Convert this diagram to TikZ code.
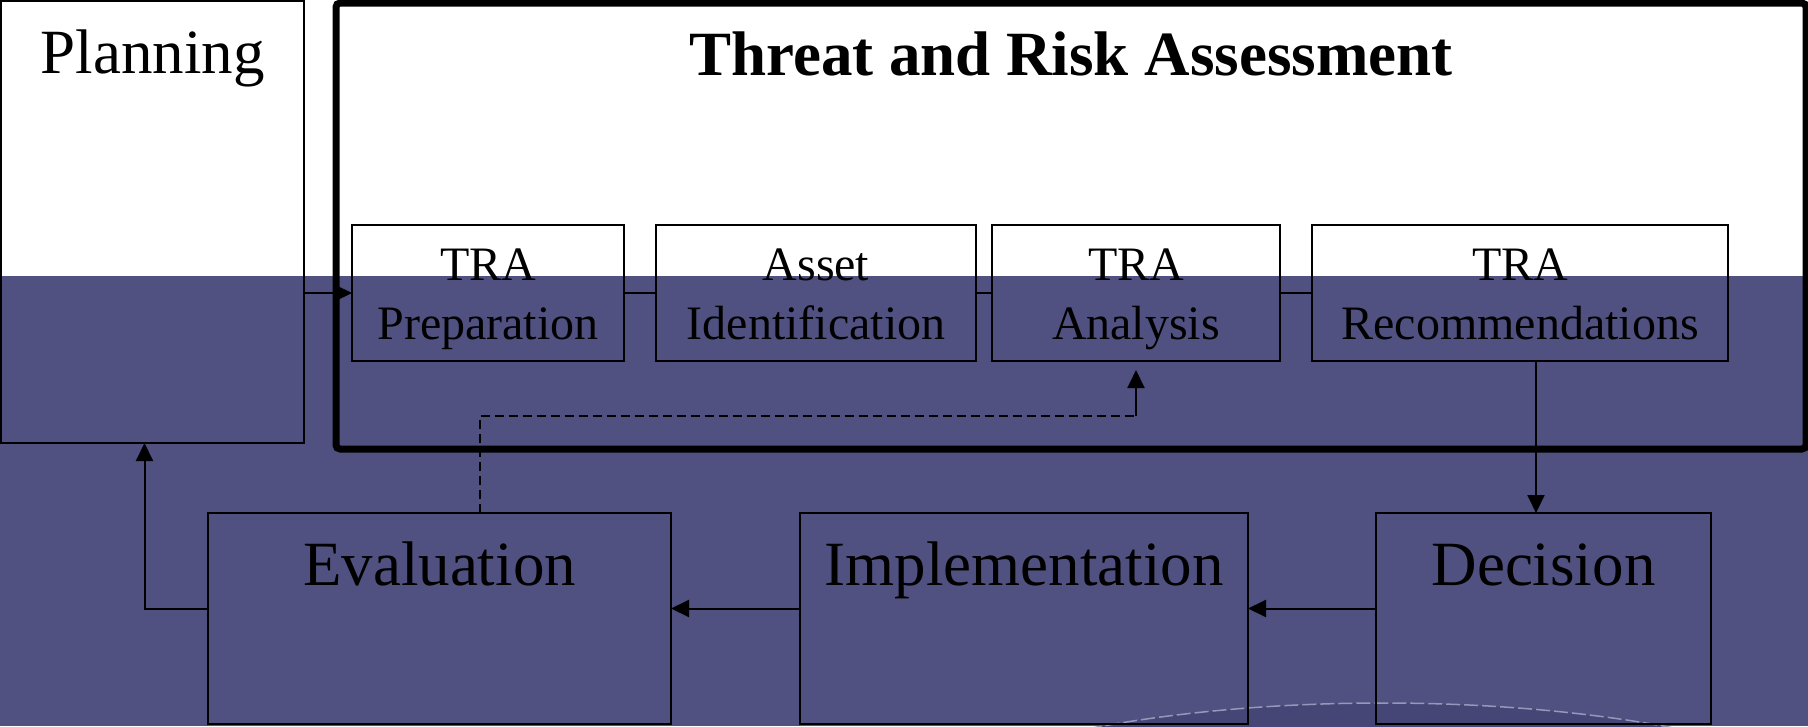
\documentclass[tikz,border=0pt]{standalone}
\usepackage{fontspec}
\setmainfont{Liberation Serif}
\usetikzlibrary{arrows.meta}
\definecolor{slideback}{RGB}{80,81,128}
\definecolor{slidearc}{RGB}{69,70,117}
\definecolor{slideline}{RGB}{150,152,185}
\newcommand{\tralines}[2]{\rule{0pt}{46pt}#1\\#2\rule[-12pt]{0pt}{12pt}}

\begin{document}
\begin{tikzpicture}[x=1pt,y=-1pt,
  bigbox/.style={draw,line width=2pt,inner sep=0pt,outer sep=0pt,anchor=north west,
    font=\fontsize{63}{70}\selectfont,text height=72pt},
  trabox/.style={draw,line width=2pt,inner sep=0pt,outer sep=0pt,anchor=north west,
    align=center,minimum height=136pt,font=\fontsize{48}{59}\selectfont},
  flow/.style={line width=2pt,-{Triangle[length=18pt,width=17pt]}},
  link/.style={line width=2pt}]
\useasboundingbox (0,0) rectangle (1808,726);
\fill[slideback] (0,276) rectangle (1808,726);
\fill[slidearc] (1383,853) ellipse [x radius=526,y radius=150];
\draw[slideline,line width=1.5pt,dash pattern=on 14pt off 4pt] (1383,853) ellipse [x radius=526,y radius=150];

\node[bigbox,minimum width=303pt,text depth=370pt] (plan) at (1,1) {Planning};
\node[bigbox,line width=7pt,rounded corners=4pt,minimum width=1470pt,text depth=374pt,
  font=\fontsize{63}{70}\selectfont\bfseries] (tra) at (336,3) {Threat and Risk Assessment};

\node[trabox,minimum width=272pt] (prep) at (352,225) {\tralines{TRA}{Preparation}};
\node[trabox,minimum width=320pt] (asset) at (656,225) {\tralines{Asset}{Identification}};
\node[trabox,minimum width=288pt] (ana) at (992,225) {\tralines{TRA}{Analysis}};
\node[trabox,minimum width=416pt] (rec) at (1312,225) {\tralines{TRA}{Recommendations}};

\node[bigbox,minimum width=463pt,text depth=139pt] (eval) at (208,513) {Evaluation};
\node[bigbox,minimum width=448pt,text depth=139pt] (impl) at (800,513) {Implementation};
\node[bigbox,minimum width=335pt,text depth=139pt] (dec) at (1376,513) {Decision};

\draw[flow] (plan.east |- prep.west) -- (prep.west);
\draw[link] (prep.east) -- (asset.west);
\draw[link] (asset.east) -- (ana.west);
\draw[link] (ana.east) -- (rec.west);
\draw[flow] ([xshift=16pt]rec.south) -- ([xshift=16pt]rec.south |- dec.north);
\draw[flow] ([yshift=10pt]dec.west) -- ([yshift=10pt]impl.east);
\draw[flow] ([yshift=10pt]impl.west) -- ([yshift=10pt]eval.east);
\draw[flow] ([yshift=10pt]eval.west) -| ([xshift=-8pt]plan.south);
\draw[link,dash pattern=on 9pt off 5pt] ([xshift=40pt]eval.north) |- ([yshift=-55pt]ana.south) coordinate (bend);
\draw[flow] (bend) -- ([yshift=-9pt]ana.south);
\end{tikzpicture}
\end{document}
